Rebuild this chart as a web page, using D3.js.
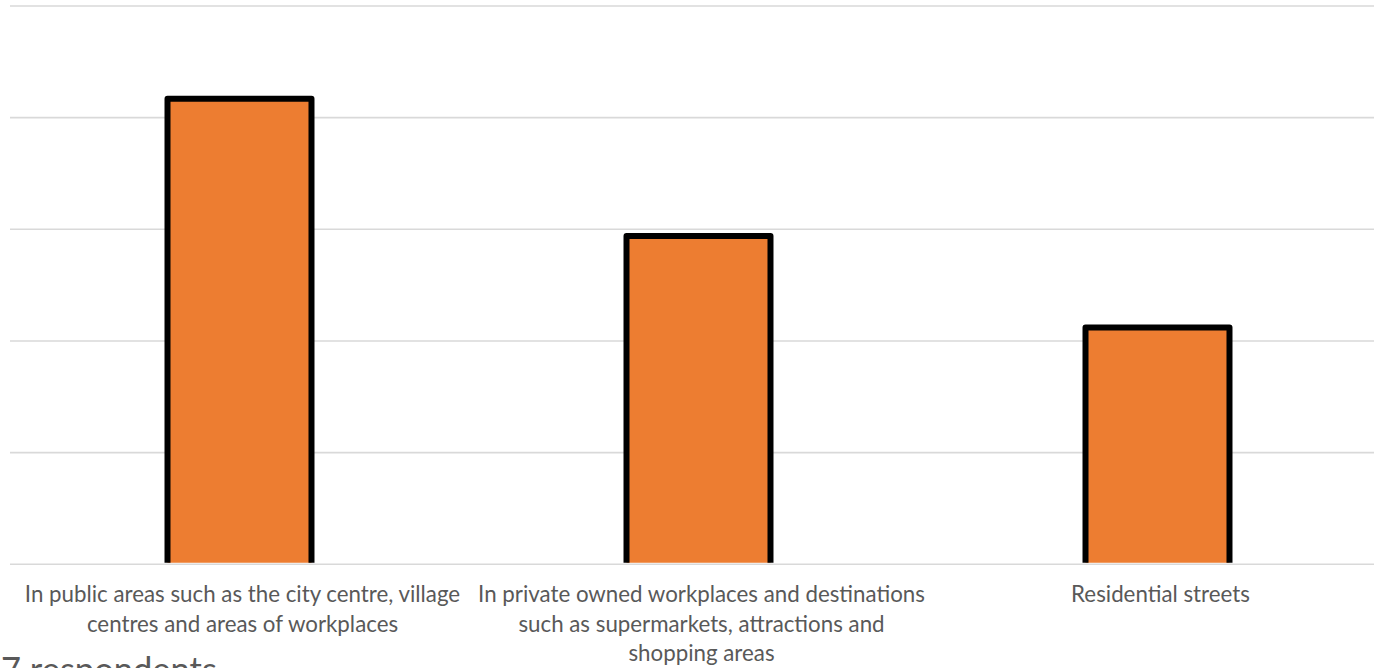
<!DOCTYPE html>
<html>
<head>
<meta charset="utf-8">
<script src="https://cdn.jsdelivr.net/npm/d3@7"></script>
<style>
html,body{margin:0;padding:0;background:#fff;overflow:hidden;}
svg{display:block;}
text{font-family:Lato,"Open Sans",sans-serif;fill:#595959;}
</style>
</head>
<body>
<svg id="chart" width="1374" height="668"></svg>
<script>
const categories = [
  "In public areas such as the city centre, village centres and areas of workplaces",
  "In private owned workplaces and destinations such as supermarkets, attractions and shopping areas",
  "Residential streets"
];
const labelLines = [
  ["In public areas such as the city centre, village", "centres and areas of workplaces"],
  ["In private owned workplaces and destinations", "such as supermarkets, attractions and", "shopping areas"],
  ["Residential streets"]
];
const values = [41.7, 29.4, 21.2];
const yTicks = [0, 10, 20, 30, 40, 50];
const footnote = "7 respondents";

const svg = d3.select("#chart");
const W = 1374, H = 668;

const x = d3.scaleBand().domain(categories).range([10, 1387]).paddingInner(0.6863).paddingOuter(0.6863 / 2);
const y = d3.scaleLinear().domain([0, 50]).range([564.3, 6]);

// gridlines
svg.append("g").selectAll("line").data(yTicks).join("line")
  .attr("x1", 10).attr("x2", W)
  .attr("y1", d => y(d)).attr("y2", d => y(d))
  .attr("stroke", "#d9d9d9").attr("stroke-width", 1.6);

// clip for bars at baseline
svg.append("clipPath").attr("id", "clip").append("rect")
  .attr("x", 0).attr("y", 0).attr("width", W).attr("height", y(0) - 1.5);

svg.append("g").attr("clip-path", "url(#clip)").selectAll("rect").data(values).join("rect")
  .attr("x", (d, i) => x(categories[i]))
  .attr("width", x.bandwidth())
  .attr("y", d => y(d))
  .attr("height", d => y(0) + 2 - y(d))
  .attr("fill", "#ED7D31")
  .attr("stroke", "#000")
  .attr("stroke-width", 6)
  .attr("stroke-linejoin", "round");

// category labels
const lab = svg.append("g");
labelLines.forEach((lines, i) => {
  const cx = x(categories[i]) + x.bandwidth() / 2 + 3;
  const t = lab.append("text").attr("text-anchor", "middle").attr("font-size", 22.3);
  lines.forEach((ln, j) => {
    t.append("tspan").attr("x", cx).attr("y", 602 + j * 29.5).text(ln);
  });
});

// footnote (cut off at bottom edge, as in the reference)
svg.append("text").attr("x", 1).attr("y", 682).attr("font-size", 34.5).text(footnote);
</script>
</body>
</html>
